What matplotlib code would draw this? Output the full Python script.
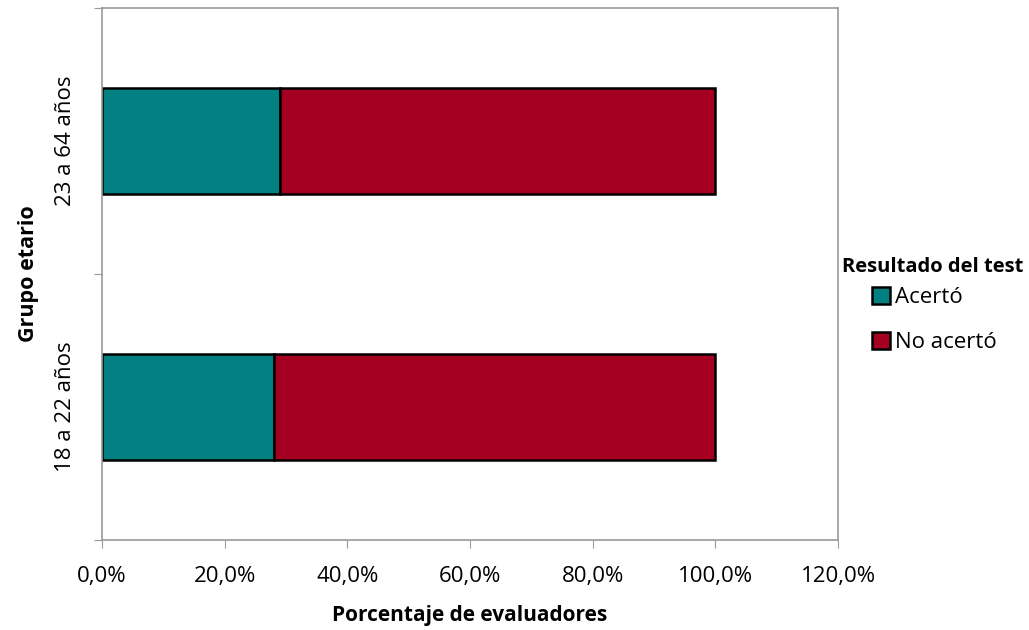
import matplotlib
matplotlib.use("Agg")
import matplotlib.pyplot as plt
from matplotlib.patches import Patch
from matplotlib.ticker import FuncFormatter

plt.rcParams['font.family'] = ['Open Sans', 'DejaVu Sans']

groups = ["18 a 22 años", "23 a 64 años"]
acerto = [28.0, 29.0]
no_acerto = [72.0, 71.0]
series_names = ["Acertó", "No acertó"]
colors = ["#008080", "#A50021"]
x_ticks = [0, 20, 40, 60, 80, 100, 120]

fig = plt.figure(figsize=(10.29, 6.3), dpi=100)
ax = fig.add_axes([102/1029, 90/630, 736/1029, 532/630])

pos = [0.5, 1.5]
ax.barh(pos, acerto, height=0.4, color=colors[0], edgecolor="black", linewidth=1.8)
ax.barh(pos, no_acerto, left=acerto, height=0.4, color=colors[1], edgecolor="black", linewidth=1.8)

ax.set_xlim(0, 120)
ax.set_ylim(0, 2)
ax.set_xticks(x_ticks)
ax.xaxis.set_major_formatter(FuncFormatter(lambda v, p: f"{v:.1f}%".replace(".", ",")))
ax.set_yticks([0, 1, 2], minor=False)
ax.set_yticklabels([])
ax.set_yticks(pos, minor=True)
ax.set_yticklabels(groups, minor=True, rotation=90, va="center", fontsize=16)
ax.tick_params(axis="y", which="minor", length=0, pad=19)
ax.tick_params(axis="y", which="major", length=6, color="#999999", direction="out")
ax.tick_params(axis="x", length=6, color="#999999", labelsize=16, pad=13)

for s in ax.spines.values():
    s.set_color("#999999")
    s.set_linewidth(1.2)

ax.set_xlabel("Porcentaje de evaluadores", fontsize=15, fontweight="bold", labelpad=13)
ax.set_ylabel("Grupo etario", fontsize=15.5, fontweight="bold", labelpad=11)

# legend title placed separately so it sits close to the entries
fig.text(842/1029, 1 - 267/630, "Resultado del test", fontsize=14.5, fontweight="bold",
         ha="left", va="center")
handles = [Patch(facecolor=c, edgecolor="black", linewidth=1.8) for c in colors]
fig.legend(handles, series_names, loc="center left",
           bbox_to_anchor=(872/1029, 1 - 320/630),
           frameon=False, fontsize=16,
           handlelength=0.8, handleheight=0.8, handletextpad=0.22, labelspacing=1.05,
           borderaxespad=0, borderpad=0)

fig.savefig("out.png", dpi=100)
